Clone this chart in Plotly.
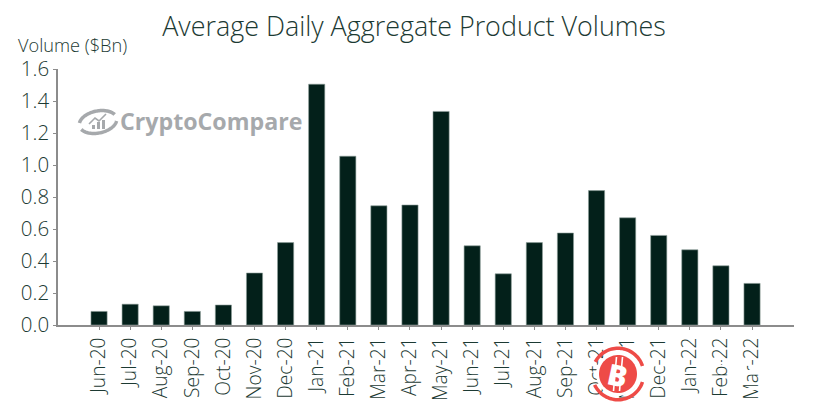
#!/usr/bin/env python3
"""
Average daily aggregate product volumes, monthly bars
"""

import numpy as np
import plotly.graph_objects as go

MONTHS = ['Jun-20', 'Jul-20', 'Aug-20', 'Sep-20', 'Oct-20', 'Nov-20', 'Dec-20', 'Jan-21', 'Feb-21', 'Mar-21', 'Apr-21',
          'May-21', 'Jun-21', 'Jul-21', 'Aug-21', 'Sep-21', 'Oct-21', 'Nov-21', 'Dec-21', 'Jan-22', 'Feb-22', 'Mar-22']
VOLUMES = [0.085, 0.13, 0.12, 0.085, 0.125, 0.325, 0.515, 1.505, 1.055, 0.745, 0.75,
           1.335, 0.495, 0.32, 0.515, 0.575, 0.84, 0.67, 0.56, 0.47, 0.37, 0.26]
Y_TICKS = [0.0, 0.2, 0.4, 0.6, 0.8, 1.0, 1.2, 1.4, 1.6]

# the page keeps an 8px body margin, so the figure starts at (8, 8)
PAGE_OFFSET = 8
FIG_W, FIG_H = 805, 406
PLOT_X0, PLOT_Y0, PLOT_W, PLOT_H = 58, 69, 736, 256
TEXT = '#1c3a33'
BAR = '#03201a'
AXIS = '#8c8c8c'
LOGO = '#a6a9ac'
RED = '#ee4b47'


def px(x, y):
    # page pixels to paper coordinates, for the two watermarks
    return (x - PLOT_X0) / PLOT_W, 1 - (y - PLOT_Y0) / PLOT_H


def poly(points, close=False):
    parts = []
    for i, (x, y) in enumerate(points):
        u, v = px(x, y)
        parts.append(f"{'M' if i == 0 else 'L'}{u:.5f},{v:.5f}")
    return ' '.join(parts) + (' Z' if close else '')


def arc(cx, cy, r_in, r_out, start, end):
    a = np.radians(np.linspace(start, end, 40))
    outer = [(cx + r_out * np.cos(t), cy - r_out * np.sin(t)) for t in a]
    inner = [(cx + r_in * np.cos(t), cy - r_in * np.sin(t)) for t in a[::-1]]
    return poly(outer + inner, close=True)


def circle(cx, cy, r, color):
    a = np.radians(np.linspace(0, 360, 60))
    return dict(type='path', xref='paper', yref='paper', line_width=0, fillcolor=color, layer='above',
                path=poly([(cx + r * np.cos(t), cy - r * np.sin(t)) for t in a], close=True))


def white_rect(x0, y0, x1, y1):
    u0, v0 = px(x0, y1)
    u1, v1 = px(x1, y0)
    return dict(type='rect', xref='paper', yref='paper', layer='above', line_width=0, fillcolor='white',
                x0=u0, x1=u1, y0=v0, y1=v1)


def tilted_ring(cx, cy, rx, ry, tilt, start, end):
    a = np.radians(np.linspace(start, end, 50))
    c, s = np.cos(np.radians(tilt)), np.sin(np.radians(tilt))
    return poly([(cx + rx * np.cos(t) * c - ry * np.sin(t) * s, cy - rx * np.cos(t) * s - ry * np.sin(t) * c)
                 for t in a])


def main():
    fig = go.Figure()
    fig.add_trace(go.Bar(x=MONTHS, y=VOLUMES, width=0.52, marker=dict(color=BAR, line=dict(color='#8fa09b', width=0.6))))

    shapes = []
    # CryptoCompare logo ring and small chart
    for start, end in [(20, 165), (200, 345)]:
        shapes.append(dict(type='path', xref='paper', yref='paper', layer='above', line=dict(color=LOGO, width=3.5),
                           path=tilted_ring(98, 122, 19, 11, 12, start, end)))
    shapes.append(dict(type='path', xref='paper', yref='paper', layer='above', line=dict(color=LOGO, width=1.6),
                       path=poly([(89, 124), (95, 118), (99, 121), (106, 114)])))
    for bx, btop in [(92, 125), (97, 122), (102, 120)]:
        u0, v0 = px(bx, 129)
        u1, v1 = px(bx + 3, btop)
        shapes.append(dict(type='rect', xref='paper', yref='paper', layer='above', line_width=0, fillcolor=LOGO,
                           x0=u0, x1=u1, y0=v0, y1=v1))

    # red bitcoin badge sitting over the tick labels, Nov-21 is mostly wiped
    shapes.append(white_rect(618, 347, 640, 386))
    shapes.append(circle(618, 374, 22, 'white'))
    shapes.append(dict(type='path', xref='paper', yref='paper', layer='above', line_width=0, fillcolor=RED,
                       path=arc(618, 374, 24, 27.5, 18, 152)))
    shapes.append(dict(type='path', xref='paper', yref='paper', layer='above', line_width=0, fillcolor=RED,
                       path=arc(618, 374, 24, 27.5, 205, 342)))
    shapes.append(circle(618, 374, 19, RED))
    # stems of the bitcoin sign
    for sx in [615, 621]:
        shapes.append(dict(type='path', xref='paper', yref='paper', layer='above', line=dict(color='white', width=1.6),
                           path=poly([(sx + 1.5, 357), (sx - 1.5, 391)])))

    # white specks where the label text is rubbed out
    for sx, sy in [(659, 386), (693, 373), (724, 363), (724, 388), (753, 371), (753, 389)]:
        shapes.append(white_rect(sx - 8, sy - 1, sx + 8, sy + 1))

    ax, ay = px(120, 121)
    bx, by = px(618, 374)
    vx, vy = px(18, 45)
    annotations = [
        dict(text='CryptoCompare', x=ax, y=ay, xref='paper', yref='paper', xanchor='left', yanchor='middle', xshift=-2,
             showarrow=False, font=dict(family='Open Sans', size=23.2, color=LOGO, weight=700)),
        dict(text='B', x=bx, y=by, xref='paper', yref='paper', xanchor='center', yanchor='middle', showarrow=False,
             textangle=12, font=dict(family='Open Sans', size=29, color='white', weight=800)),
        dict(text='Volume ($Bn)', x=vx, y=vy, xref='paper', yref='paper', xanchor='left', yanchor='middle', xshift=-2,
             showarrow=False, font=dict(family='Open Sans', size=18.2, color=TEXT, weight=300)),
    ]

    fig.update_layout(
        width=FIG_W, height=FIG_H, showlegend=False, plot_bgcolor='white', paper_bgcolor='white',
        margin=dict(l=PLOT_X0 - PAGE_OFFSET, r=19, t=PLOT_Y0 - PAGE_OFFSET, b=89),
        title=dict(text='Average Daily Aggregate Product Volumes', x=(414 - PAGE_OFFSET) / FIG_W, xanchor='center',
                   y=1 - (27 - PAGE_OFFSET) / FIG_H, yanchor='middle',
                   font=dict(family='Open Sans', size=26.9, color=TEXT, weight=300)),
        xaxis=dict(type='category', categoryorder='array', categoryarray=MONTHS, range=[-1.32, 22.35], tickangle=-90,
                   ticks='outside', ticklen=3, tickcolor=AXIS, showline=True, linecolor=AXIS, linewidth=1.5,
                   showgrid=False, zeroline=False, tickfont=dict(family='Open Sans', size=19.2, color=TEXT, weight=300)),
        yaxis=dict(range=[0, 1.6], tickvals=Y_TICKS, tickformat='.1f', ticks='outside', ticklen=3, tickcolor=AXIS,
                   showline=True, linecolor=AXIS, linewidth=1.5, showgrid=False, zeroline=False,
                   tickfont=dict(family='Open Sans', size=20.5, color=TEXT, weight=300)),
        shapes=shapes, annotations=annotations)

    fig.write_html('out.html')


if __name__ == '__main__':
    main()
